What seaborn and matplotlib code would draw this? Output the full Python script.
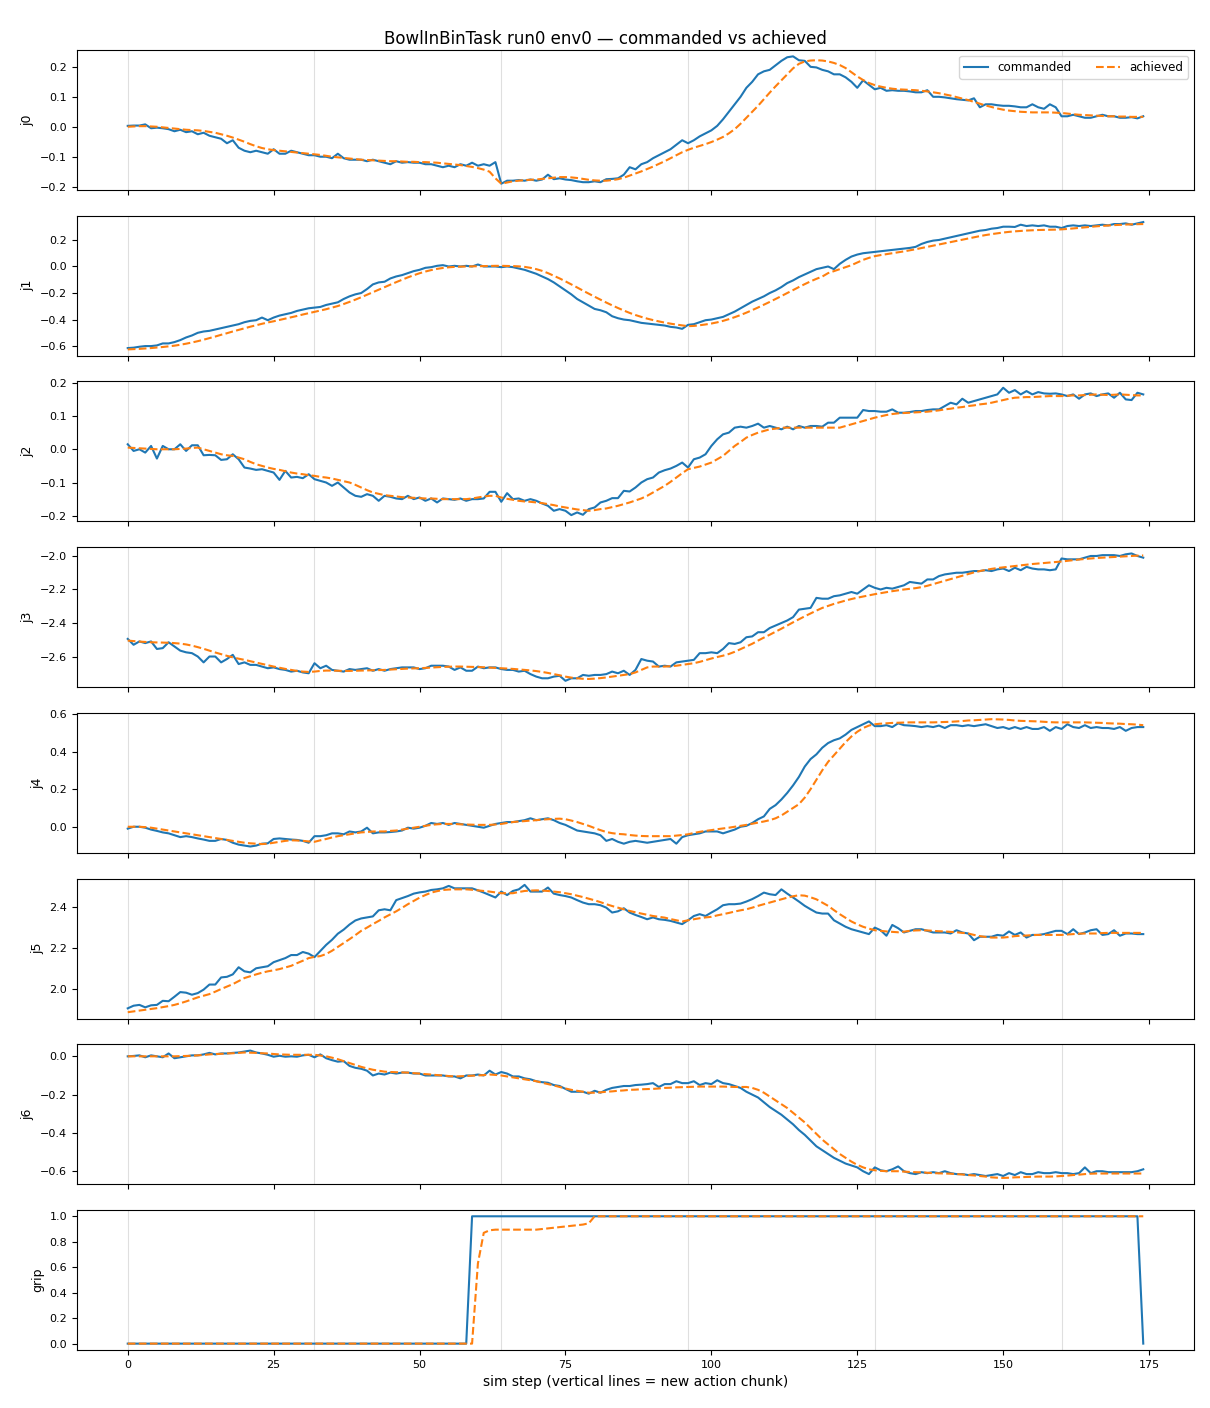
import numpy as np
import matplotlib
matplotlib.use("Agg")
import matplotlib.pyplot as plt
import seaborn as sb

# commanded vs achieved joint targets, one value per sim step
j0_cmd = [0.003, 0.004, 0.004, 0.008, -0.005, -0.003, -0.005, -0.008, -0.015, -0.01,
          -0.018, -0.015, -0.025, -0.02, -0.03, -0.035, -0.04, -0.055, -0.045, -0.07,
          -0.08, -0.085, -0.08, -0.085, -0.09, -0.075, -0.09, -0.09, -0.08, -0.085,
          -0.09, -0.095, -0.095, -0.1, -0.1, -0.105, -0.09, -0.105, -0.11, -0.11,
          -0.11, -0.115, -0.11, -0.115, -0.12, -0.125, -0.115, -0.12, -0.118, -0.12,
          -0.12, -0.125, -0.125, -0.13, -0.135, -0.13, -0.135, -0.125, -0.13, -0.12,
          -0.13, -0.125, -0.13, -0.118, -0.19, -0.18, -0.18, -0.178, -0.18, -0.176,
          -0.18, -0.176, -0.16, -0.175, -0.172, -0.176, -0.178, -0.182, -0.185, -0.185,
          -0.182, -0.185, -0.175, -0.174, -0.172, -0.16, -0.135, -0.142, -0.125, -0.118,
          -0.105, -0.095, -0.085, -0.075, -0.06, -0.045, -0.055, -0.045, -0.032, -0.022,
          -0.012, 0.003, 0.025, 0.05, 0.075, 0.1, 0.13, 0.15, 0.175, 0.185,
          0.19, 0.205, 0.22, 0.232, 0.235, 0.222, 0.22, 0.2, 0.198, 0.19,
          0.185, 0.175, 0.175, 0.165, 0.15, 0.13, 0.155, 0.14, 0.125, 0.13,
          0.12, 0.122, 0.12, 0.12, 0.118, 0.115, 0.115, 0.122, 0.1, 0.1,
          0.098, 0.095, 0.092, 0.09, 0.088, 0.095, 0.065, 0.075, 0.075, 0.072,
          0.07, 0.07, 0.068, 0.065, 0.065, 0.075, 0.065, 0.06, 0.075, 0.065,
          0.035, 0.035, 0.04, 0.035, 0.03, 0.03, 0.035, 0.04, 0.035, 0.035,
          0.03, 0.03, 0.032, 0.028, 0.035]
j0_ach = [0.0, 0.001, 0.002, 0.002, 0.001, 0.0, -0.002, -0.004, -0.006, -0.008,
          -0.01, -0.011, -0.012, -0.014, -0.017, -0.02, -0.025, -0.03, -0.036, -0.043,
          -0.05, -0.058, -0.065, -0.071, -0.075, -0.078, -0.08, -0.082, -0.084, -0.086,
          -0.088, -0.09, -0.092, -0.094, -0.097, -0.1, -0.102, -0.104, -0.106, -0.108,
          -0.11, -0.111, -0.112, -0.113, -0.114, -0.115, -0.115, -0.116, -0.117, -0.117,
          -0.118, -0.118, -0.119, -0.12, -0.122, -0.124, -0.126, -0.128, -0.131, -0.134,
          -0.138, -0.143, -0.15, -0.172, -0.19, -0.186, -0.182, -0.18, -0.178, -0.177,
          -0.176, -0.174, -0.172, -0.17, -0.168, -0.168, -0.169, -0.171, -0.174, -0.177,
          -0.179, -0.18, -0.18, -0.178, -0.175, -0.17, -0.163, -0.156, -0.149, -0.141,
          -0.133, -0.124, -0.115, -0.105, -0.095, -0.085, -0.077, -0.07, -0.064, -0.058,
          -0.051, -0.043, -0.034, -0.022, -0.008, 0.01, 0.03, 0.05, 0.07, 0.092,
          0.114, 0.135, 0.155, 0.175, 0.195, 0.21, 0.218, 0.221, 0.222, 0.221,
          0.218, 0.213, 0.206, 0.196, 0.182, 0.168, 0.156, 0.146, 0.139, 0.134,
          0.13, 0.127, 0.125, 0.124, 0.123, 0.122, 0.12, 0.118, 0.115, 0.112,
          0.108, 0.104, 0.099, 0.094, 0.089, 0.083, 0.077, 0.071, 0.066, 0.061,
          0.057, 0.054, 0.052, 0.05, 0.049, 0.048, 0.048, 0.048, 0.048, 0.047,
          0.046, 0.044, 0.042, 0.04, 0.039, 0.038, 0.037, 0.036, 0.035, 0.035,
          0.034, 0.034, 0.033, 0.033, 0.033]

j1_cmd = [-0.615, -0.612, -0.605, -0.6, -0.6, -0.595, -0.58, -0.58, -0.57, -0.555,
          -0.535, -0.52, -0.5, -0.49, -0.485, -0.475, -0.465, -0.455, -0.445, -0.435,
          -0.42, -0.41, -0.405, -0.385, -0.405, -0.385, -0.37, -0.36, -0.35, -0.335,
          -0.325, -0.315, -0.31, -0.305, -0.29, -0.28, -0.27, -0.245, -0.225, -0.21,
          -0.2, -0.17, -0.135, -0.12, -0.115, -0.09, -0.075, -0.065, -0.05, -0.035,
          -0.025, -0.01, -0.005, 0.005, 0.01, 0.0, 0.005, 0.0, 0.005, 0.0,
          0.015, 0.0, 0.0, 0.0, -0.005, 0.0, -0.005, -0.015, -0.025, -0.04,
          -0.055, -0.075, -0.095, -0.12, -0.15, -0.18, -0.21, -0.245, -0.27, -0.295,
          -0.32, -0.33, -0.345, -0.375, -0.39, -0.4, -0.405, -0.415, -0.425, -0.43,
          -0.435, -0.44, -0.445, -0.455, -0.46, -0.47, -0.44, -0.435, -0.42, -0.405,
          -0.4, -0.39, -0.38, -0.36, -0.34, -0.315, -0.29, -0.265, -0.245, -0.225,
          -0.2, -0.18, -0.155, -0.125, -0.105, -0.08, -0.06, -0.04, -0.02, -0.01,
          0.0, -0.02, 0.02, 0.05, 0.075, 0.09, 0.1, 0.105, 0.11, 0.115,
          0.12, 0.125, 0.13, 0.135, 0.14, 0.148, 0.17, 0.185, 0.195, 0.2,
          0.21, 0.22, 0.23, 0.24, 0.25, 0.26, 0.27, 0.275, 0.285, 0.29,
          0.3, 0.3, 0.298, 0.315, 0.305, 0.31, 0.305, 0.31, 0.3, 0.3,
          0.29, 0.305, 0.31, 0.305, 0.31, 0.305, 0.31, 0.315, 0.31, 0.32,
          0.32, 0.325, 0.315, 0.325, 0.335]
j1_ach = [-0.625, -0.623, -0.621, -0.618, -0.615, -0.611, -0.607, -0.602, -0.597, -0.59,
          -0.582, -0.573, -0.563, -0.552, -0.54, -0.528, -0.515, -0.503, -0.49, -0.478,
          -0.466, -0.454, -0.443, -0.432, -0.422, -0.413, -0.403, -0.393, -0.383, -0.373,
          -0.362, -0.352, -0.342, -0.332, -0.322, -0.31, -0.298, -0.283, -0.267, -0.25,
          -0.232, -0.213, -0.194, -0.175, -0.156, -0.137, -0.118, -0.1, -0.082, -0.066,
          -0.051, -0.038, -0.027, -0.018, -0.011, -0.006, -0.003, -0.001, 0.0, 0.001,
          0.002, 0.003, 0.004, 0.005, 0.005, 0.004, 0.003, 0.001, -0.003, -0.01,
          -0.02, -0.033, -0.05, -0.07, -0.09, -0.112, -0.135, -0.158, -0.182, -0.205,
          -0.228, -0.25, -0.272, -0.293, -0.313, -0.332, -0.35, -0.366, -0.38, -0.393,
          -0.404, -0.414, -0.423, -0.431, -0.438, -0.444, -0.45, -0.448, -0.443, -0.437,
          -0.43, -0.421, -0.41, -0.397, -0.382, -0.366, -0.348, -0.329, -0.309, -0.288,
          -0.267, -0.245, -0.223, -0.2, -0.178, -0.155, -0.133, -0.112, -0.093, -0.076,
          -0.05, -0.035, -0.02, -0.005, 0.01, 0.03, 0.05, 0.065, 0.078, 0.086,
          0.093, 0.1, 0.107, 0.114, 0.122, 0.13, 0.139, 0.148, 0.157, 0.166,
          0.175, 0.184, 0.193, 0.202, 0.211, 0.22, 0.229, 0.237, 0.244, 0.25,
          0.256, 0.261, 0.265, 0.268, 0.271, 0.273, 0.275, 0.276, 0.277, 0.278,
          0.28, 0.283, 0.287, 0.291, 0.295, 0.299, 0.303, 0.306, 0.309, 0.312,
          0.314, 0.316, 0.318, 0.319, 0.32]

j2_cmd = [0.015, -0.005, 0.0, -0.01, 0.01, -0.028, 0.01, 0.0, 0.0, 0.015,
          -0.005, 0.012, 0.012, -0.018, -0.017, -0.018, -0.032, -0.03, -0.015, -0.03,
          -0.055, -0.058, -0.062, -0.06, -0.065, -0.07, -0.092, -0.065, -0.085, -0.083,
          -0.087, -0.075, -0.09, -0.095, -0.1, -0.11, -0.1, -0.115, -0.13, -0.14,
          -0.143, -0.135, -0.14, -0.155, -0.14, -0.143, -0.148, -0.15, -0.14, -0.15,
          -0.145, -0.155, -0.148, -0.16, -0.148, -0.15, -0.152, -0.148, -0.155, -0.15,
          -0.15, -0.148, -0.128, -0.128, -0.158, -0.132, -0.15, -0.148, -0.155, -0.15,
          -0.155, -0.163, -0.17, -0.185, -0.18, -0.185, -0.198, -0.19, -0.197, -0.18,
          -0.175, -0.16, -0.155, -0.147, -0.147, -0.125, -0.127, -0.115, -0.1, -0.09,
          -0.085, -0.07, -0.063, -0.058, -0.05, -0.04, -0.055, -0.03, -0.025, -0.015,
          0.01, 0.03, 0.045, 0.05, 0.065, 0.068, 0.065, 0.07, 0.077, 0.065,
          0.07, 0.065, 0.06, 0.068, 0.06, 0.07, 0.065, 0.07, 0.07, 0.068,
          0.08, 0.08, 0.095, 0.095, 0.095, 0.095, 0.118, 0.115, 0.115, 0.113,
          0.113, 0.12, 0.11, 0.11, 0.112, 0.115, 0.115, 0.118, 0.12, 0.12,
          0.13, 0.14, 0.135, 0.152, 0.14, 0.145, 0.15, 0.155, 0.16, 0.165,
          0.185, 0.17, 0.178, 0.165, 0.175, 0.165, 0.172, 0.168, 0.167, 0.168,
          0.165, 0.16, 0.165, 0.152, 0.165, 0.168, 0.16, 0.165, 0.168, 0.155,
          0.17, 0.15, 0.148, 0.17, 0.165]
j2_ach = [0.005, 0.004, 0.003, 0.002, 0.001, 0.0, 0.0, 0.0, 0.0, 0.001,
          0.002, 0.004, 0.005, 0.0, -0.005, -0.01, -0.015, -0.018, -0.02, -0.025,
          -0.03, -0.038, -0.045, -0.05, -0.055, -0.059, -0.062, -0.066, -0.07, -0.073,
          -0.075, -0.078, -0.08, -0.083, -0.085, -0.088, -0.092, -0.096, -0.1, -0.107,
          -0.115, -0.123, -0.13, -0.134, -0.138, -0.14, -0.142, -0.144, -0.145, -0.146,
          -0.147, -0.148, -0.148, -0.149, -0.15, -0.15, -0.15, -0.15, -0.15, -0.148,
          -0.145, -0.142, -0.14, -0.14, -0.145, -0.149, -0.152, -0.155, -0.157, -0.158,
          -0.16, -0.162, -0.165, -0.168, -0.172, -0.175, -0.178, -0.181, -0.183, -0.185,
          -0.183, -0.18, -0.178, -0.174, -0.17, -0.165, -0.16, -0.154, -0.148, -0.14,
          -0.13, -0.12, -0.11, -0.098, -0.085, -0.072, -0.06, -0.056, -0.052, -0.046,
          -0.04, -0.03, -0.02, -0.005, 0.01, 0.022, 0.035, 0.043, 0.05, 0.055,
          0.06, 0.062, 0.065, 0.065, 0.065, 0.065, 0.065, 0.065, 0.065, 0.065,
          0.065, 0.065, 0.065, 0.07, 0.075, 0.08, 0.085, 0.09, 0.095, 0.099,
          0.103, 0.106, 0.108, 0.109, 0.11, 0.111, 0.112, 0.113, 0.115, 0.117,
          0.12, 0.122, 0.125, 0.127, 0.13, 0.132, 0.135, 0.137, 0.14, 0.144,
          0.148, 0.152, 0.155, 0.156, 0.157, 0.157, 0.158, 0.159, 0.16, 0.16,
          0.16, 0.161, 0.162, 0.162, 0.163, 0.164, 0.165, 0.164, 0.163, 0.164,
          0.165, 0.164, 0.163, 0.162, 0.162]

j3_cmd = [-2.495, -2.53, -2.51, -2.52, -2.51, -2.555, -2.55, -2.515, -2.54, -2.565,
          -2.575, -2.58, -2.6, -2.635, -2.6, -2.6, -2.635, -2.615, -2.59, -2.645,
          -2.635, -2.65, -2.65, -2.66, -2.67, -2.665, -2.675, -2.68, -2.69, -2.685,
          -2.695, -2.7, -2.64, -2.67, -2.655, -2.68, -2.685, -2.69, -2.675, -2.68,
          -2.675, -2.67, -2.685, -2.675, -2.685, -2.675, -2.67, -2.665, -2.665, -2.665,
          -2.675, -2.67, -2.655, -2.655, -2.655, -2.66, -2.68, -2.665, -2.685, -2.685,
          -2.66, -2.67, -2.665, -2.665, -2.675, -2.68, -2.68, -2.69, -2.685, -2.705,
          -2.72, -2.73, -2.73, -2.72, -2.715, -2.745, -2.73, -2.73, -2.71, -2.715,
          -2.71, -2.71, -2.705, -2.69, -2.7, -2.685, -2.71, -2.68, -2.615, -2.625,
          -2.63, -2.66, -2.655, -2.66, -2.635, -2.63, -2.625, -2.62, -2.58, -2.58,
          -2.575, -2.58, -2.555, -2.52, -2.525, -2.515, -2.485, -2.48, -2.455, -2.455,
          -2.43, -2.415, -2.4, -2.385, -2.365, -2.32, -2.315, -2.31, -2.25, -2.255,
          -2.255, -2.24, -2.235, -2.225, -2.215, -2.225, -2.2, -2.175, -2.19, -2.2,
          -2.19, -2.195, -2.185, -2.175, -2.155, -2.16, -2.165, -2.14, -2.14, -2.12,
          -2.11, -2.105, -2.1, -2.1, -2.095, -2.09, -2.09, -2.085, -2.09, -2.08,
          -2.075, -2.09, -2.07, -2.085, -2.065, -2.075, -2.08, -2.08, -2.085, -2.08,
          -2.015, -2.02, -2.02, -2.02, -2.01, -2.0, -2.0, -1.995, -1.995, -1.995,
          -2.0, -1.99, -1.985, -2.0, -2.01]
j3_ach = [-2.505, -2.508, -2.511, -2.513, -2.515, -2.516, -2.517, -2.518, -2.52, -2.523,
          -2.528, -2.535, -2.544, -2.554, -2.565, -2.576, -2.586, -2.596, -2.605, -2.613,
          -2.62, -2.628, -2.636, -2.644, -2.652, -2.66, -2.667, -2.674, -2.68, -2.686,
          -2.69, -2.692, -2.69, -2.686, -2.684, -2.684, -2.685, -2.686, -2.686, -2.685,
          -2.684, -2.683, -2.682, -2.681, -2.68, -2.678, -2.676, -2.674, -2.672, -2.671,
          -2.67, -2.668, -2.666, -2.664, -2.662, -2.661, -2.66, -2.66, -2.661, -2.662,
          -2.663, -2.664, -2.666, -2.668, -2.67, -2.672, -2.674, -2.677, -2.68, -2.683,
          -2.687, -2.692, -2.698, -2.705, -2.712, -2.72, -2.726, -2.73, -2.733, -2.734,
          -2.732, -2.729, -2.725, -2.72, -2.715, -2.71, -2.705, -2.695, -2.68, -2.665,
          -2.66, -2.66, -2.66, -2.658, -2.655, -2.65, -2.645, -2.64, -2.632, -2.622,
          -2.612, -2.603, -2.595, -2.585, -2.572, -2.556, -2.54, -2.524, -2.505, -2.487,
          -2.47, -2.452, -2.434, -2.415, -2.396, -2.378, -2.36, -2.343, -2.326, -2.31,
          -2.298, -2.286, -2.276, -2.266, -2.257, -2.249, -2.242, -2.235, -2.228, -2.222,
          -2.216, -2.21, -2.205, -2.2, -2.196, -2.192, -2.186, -2.178, -2.168, -2.158,
          -2.148, -2.138, -2.128, -2.118, -2.108, -2.098, -2.09, -2.083, -2.077, -2.072,
          -2.068, -2.064, -2.06, -2.056, -2.052, -2.048, -2.045, -2.042, -2.039, -2.036,
          -2.033, -2.029, -2.025, -2.021, -2.018, -2.015, -2.012, -2.01, -2.008, -2.006,
          -2.004, -2.002, -2.0, -1.998, -1.997]

j4_cmd = [-0.01, 0.0, 0.0, -0.005, -0.015, -0.022, -0.03, -0.035, -0.045, -0.055,
          -0.05, -0.055, -0.062, -0.068, -0.075, -0.075, -0.065, -0.07, -0.085, -0.095,
          -0.1, -0.105, -0.1, -0.09, -0.088, -0.065, -0.062, -0.065, -0.068, -0.07,
          -0.075, -0.085, -0.05, -0.05, -0.045, -0.035, -0.035, -0.04, -0.025, -0.03,
          -0.025, -0.005, -0.035, -0.03, -0.03, -0.028, -0.025, -0.02, -0.005, -0.01,
          -0.005, 0.005, 0.02, 0.015, 0.02, 0.01, 0.02, 0.015, 0.01, 0.005,
          0.0, -0.005, 0.005, 0.015, 0.02, 0.025, 0.025, 0.03, 0.035, 0.045,
          0.035, 0.04, 0.045, 0.035, 0.02, 0.01, -0.005, -0.02, -0.025, -0.03,
          -0.035, -0.045, -0.075, -0.065, -0.08, -0.09, -0.08, -0.075, -0.08, -0.085,
          -0.08, -0.075, -0.07, -0.065, -0.09, -0.055, -0.045, -0.04, -0.035, -0.025,
          -0.025, -0.025, -0.035, -0.025, -0.015, 0.0, 0.005, 0.02, 0.04, 0.055,
          0.095, 0.115, 0.145, 0.18, 0.22, 0.265, 0.32, 0.36, 0.385, 0.42,
          0.445, 0.46, 0.47, 0.49, 0.515, 0.53, 0.545, 0.56, 0.535, 0.535,
          0.54, 0.53, 0.55, 0.54, 0.538, 0.535, 0.53, 0.535, 0.53, 0.538,
          0.525, 0.54, 0.54, 0.535, 0.54, 0.535, 0.54, 0.545, 0.535, 0.525,
          0.53, 0.52, 0.53, 0.52, 0.53, 0.52, 0.52, 0.53, 0.51, 0.53,
          0.52, 0.545, 0.53, 0.525, 0.54, 0.525, 0.53, 0.525, 0.525, 0.52,
          0.53, 0.51, 0.525, 0.53, 0.53]
j4_ach = [0.0, 0.0, 0.0, -0.002, -0.005, -0.01, -0.015, -0.02, -0.025, -0.03,
          -0.035, -0.04, -0.045, -0.05, -0.055, -0.06, -0.065, -0.07, -0.075, -0.08,
          -0.085, -0.088, -0.09, -0.092, -0.09, -0.085, -0.08, -0.075, -0.072, -0.073,
          -0.075, -0.078, -0.08, -0.072, -0.065, -0.057, -0.05, -0.045, -0.04, -0.035,
          -0.03, -0.028, -0.025, -0.025, -0.025, -0.022, -0.02, -0.015, -0.01, -0.005,
          0.0, 0.005, 0.01, 0.013, 0.015, 0.015, 0.015, 0.013, 0.012, 0.011,
          0.01, 0.01, 0.01, 0.012, 0.015, 0.02, 0.025, 0.028, 0.03, 0.033,
          0.035, 0.038, 0.04, 0.042, 0.043, 0.04, 0.033, 0.025, 0.015, 0.005,
          -0.007, -0.018, -0.028, -0.034, -0.038, -0.04, -0.044, -0.047, -0.049, -0.05,
          -0.05, -0.05, -0.05, -0.05, -0.047, -0.044, -0.04, -0.033, -0.027, -0.022,
          -0.018, -0.013, -0.009, -0.005, 0.0, 0.005, 0.01, 0.016, 0.022, 0.028,
          0.035, 0.045, 0.06, 0.08, 0.1, 0.12, 0.155, 0.2, 0.25, 0.3,
          0.345, 0.38, 0.415, 0.45, 0.48, 0.505, 0.525, 0.538, 0.545, 0.548,
          0.55, 0.552, 0.553, 0.554, 0.555, 0.555, 0.555, 0.555, 0.555, 0.556,
          0.557, 0.558, 0.56, 0.562, 0.565, 0.566, 0.568, 0.57, 0.572, 0.571,
          0.57, 0.568, 0.565, 0.563, 0.562, 0.561, 0.56, 0.558, 0.556, 0.555,
          0.555, 0.555, 0.555, 0.555, 0.555, 0.554, 0.553, 0.552, 0.55, 0.549,
          0.548, 0.546, 0.545, 0.543, 0.54]

j5_cmd = [1.903, 1.916, 1.92, 1.908, 1.918, 1.92, 1.94, 1.938, 1.96, 1.983,
          1.98, 1.97, 1.978, 1.995, 2.02, 2.02, 2.055, 2.058, 2.07, 2.105,
          2.085, 2.08, 2.1, 2.105, 2.11, 2.13, 2.14, 2.15, 2.165, 2.165,
          2.18, 2.172, 2.155, 2.185, 2.215, 2.24, 2.27, 2.29, 2.315, 2.335,
          2.345, 2.35, 2.355, 2.385, 2.39, 2.385, 2.435, 2.445, 2.455, 2.467,
          2.473, 2.477, 2.485, 2.488, 2.493, 2.505, 2.493, 2.493, 2.493, 2.493,
          2.483, 2.472, 2.46, 2.448, 2.477, 2.46, 2.48, 2.488, 2.51, 2.477,
          2.477, 2.477, 2.497, 2.467, 2.46, 2.455, 2.448, 2.435, 2.423, 2.415,
          2.415, 2.41, 2.398, 2.374, 2.38, 2.395, 2.374, 2.362, 2.352, 2.341,
          2.35, 2.341, 2.338, 2.333, 2.325, 2.317, 2.336, 2.357, 2.366, 2.357,
          2.374, 2.39, 2.41, 2.415, 2.415, 2.418, 2.428, 2.44, 2.455, 2.472,
          2.464, 2.46, 2.488, 2.467, 2.448, 2.428, 2.407, 2.39, 2.374, 2.369,
          2.369, 2.336, 2.32, 2.304, 2.292, 2.284, 2.276, 2.268, 2.3, 2.287,
          2.26, 2.313, 2.297, 2.276, 2.284, 2.292, 2.292, 2.284, 2.276, 2.276,
          2.276, 2.271, 2.287, 2.276, 2.271, 2.238, 2.255, 2.255, 2.255, 2.264,
          2.26, 2.281, 2.264, 2.276, 2.251, 2.264, 2.264, 2.268, 2.276, 2.284,
          2.284, 2.268, 2.292, 2.268, 2.276, 2.287, 2.292, 2.264, 2.268, 2.287,
          2.26, 2.271, 2.271, 2.268, 2.268]
j5_ach = [1.884, 1.888, 1.892, 1.896, 1.9, 1.904, 1.909, 1.914, 1.92, 1.928,
          1.937, 1.947, 1.957, 1.965, 1.973, 1.985, 1.998, 2.01, 2.022, 2.037,
          2.052, 2.061, 2.07, 2.078, 2.085, 2.09, 2.096, 2.104, 2.112, 2.125,
          2.137, 2.15, 2.156, 2.16, 2.17, 2.186, 2.205, 2.224, 2.243, 2.263,
          2.284, 2.3, 2.317, 2.333, 2.35, 2.365, 2.38, 2.397, 2.415, 2.431,
          2.447, 2.46, 2.472, 2.479, 2.485, 2.487, 2.488, 2.488, 2.488, 2.486,
          2.483, 2.48, 2.477, 2.473, 2.469, 2.469, 2.469, 2.475, 2.48, 2.482,
          2.483, 2.482, 2.48, 2.477, 2.474, 2.469, 2.464, 2.457, 2.45, 2.442,
          2.434, 2.425, 2.415, 2.406, 2.398, 2.39, 2.382, 2.375, 2.369, 2.363,
          2.357, 2.353, 2.349, 2.342, 2.336, 2.33, 2.336, 2.341, 2.346, 2.35,
          2.353, 2.36, 2.366, 2.372, 2.379, 2.385, 2.39, 2.398, 2.407, 2.415,
          2.423, 2.431, 2.439, 2.447, 2.454, 2.459, 2.457, 2.449, 2.439, 2.423,
          2.407, 2.386, 2.366, 2.348, 2.33, 2.316, 2.304, 2.295, 2.287, 2.284,
          2.281, 2.279, 2.277, 2.28, 2.284, 2.286, 2.287, 2.286, 2.284, 2.282,
          2.281, 2.279, 2.277, 2.274, 2.271, 2.264, 2.258, 2.254, 2.251, 2.251,
          2.251, 2.254, 2.258, 2.26, 2.261, 2.263, 2.264, 2.264, 2.264, 2.264,
          2.264, 2.266, 2.268, 2.27, 2.271, 2.271, 2.271, 2.273, 2.274, 2.274,
          2.274, 2.274, 2.274, 2.274, 2.274]

j6_cmd = [0.0, 0.002, 0.005, -0.005, 0.005, 0.0, -0.005, 0.015, -0.01, -0.005,
          0.0, 0.005, 0.005, 0.01, 0.018, 0.01, 0.015, 0.015, 0.018, 0.02,
          0.025, 0.03, 0.02, 0.015, 0.008, -0.002, 0.003, -0.002, 0.0, -0.002,
          0.005, 0.008, -0.005, 0.01, -0.01, -0.02, -0.028, -0.025, -0.05, -0.06,
          -0.065, -0.075, -0.1, -0.09, -0.095, -0.085, -0.09, -0.085, -0.085, -0.09,
          -0.09, -0.1, -0.1, -0.1, -0.1, -0.105, -0.105, -0.115, -0.1, -0.1,
          -0.095, -0.1, -0.075, -0.095, -0.082, -0.09, -0.105, -0.105, -0.115, -0.12,
          -0.13, -0.135, -0.138, -0.15, -0.155, -0.17, -0.185, -0.185, -0.185, -0.195,
          -0.18, -0.19, -0.175, -0.165, -0.16, -0.155, -0.155, -0.15, -0.148, -0.145,
          -0.14, -0.16, -0.145, -0.145, -0.13, -0.14, -0.14, -0.13, -0.15, -0.14,
          -0.145, -0.125, -0.14, -0.145, -0.155, -0.165, -0.185, -0.2, -0.215, -0.24,
          -0.265, -0.285, -0.305, -0.33, -0.355, -0.385, -0.41, -0.44, -0.47, -0.49,
          -0.51, -0.53, -0.545, -0.56, -0.57, -0.58, -0.6, -0.615, -0.58, -0.595,
          -0.6, -0.59, -0.575, -0.6, -0.61, -0.615, -0.605, -0.61, -0.605, -0.61,
          -0.6, -0.61, -0.615, -0.615, -0.62, -0.615, -0.62, -0.625, -0.62, -0.615,
          -0.625, -0.61, -0.62, -0.605, -0.615, -0.615, -0.605, -0.61, -0.61, -0.605,
          -0.61, -0.61, -0.615, -0.61, -0.58, -0.61, -0.6, -0.6, -0.605, -0.605,
          -0.605, -0.605, -0.605, -0.6, -0.59]
j6_ach = [0.0, 0.0, 0.0, 0.0, 0.0, 0.0, 0.0, 0.0, 0.0, 0.001,
          0.002, 0.003, 0.005, 0.007, 0.01, 0.012, 0.013, 0.015, 0.016, 0.018,
          0.02, 0.019, 0.018, 0.016, 0.015, 0.012, 0.01, 0.009, 0.008, 0.008,
          0.008, 0.008, 0.008, 0.004, 0.0, -0.007, -0.015, -0.025, -0.035, -0.045,
          -0.055, -0.063, -0.07, -0.075, -0.08, -0.082, -0.083, -0.084, -0.085, -0.088,
          -0.09, -0.093, -0.095, -0.098, -0.1, -0.103, -0.105, -0.104, -0.103, -0.101,
          -0.1, -0.098, -0.095, -0.097, -0.1, -0.105, -0.11, -0.115, -0.12, -0.125,
          -0.13, -0.138, -0.145, -0.152, -0.16, -0.168, -0.175, -0.18, -0.185, -0.19,
          -0.19, -0.188, -0.185, -0.183, -0.18, -0.178, -0.175, -0.174, -0.172, -0.171,
          -0.17, -0.168, -0.165, -0.164, -0.162, -0.161, -0.16, -0.159, -0.158, -0.158,
          -0.158, -0.158, -0.158, -0.159, -0.16, -0.16, -0.16, -0.165, -0.175, -0.19,
          -0.21, -0.23, -0.25, -0.27, -0.295, -0.32, -0.345, -0.375, -0.405, -0.435,
          -0.46, -0.485, -0.51, -0.53, -0.55, -0.567, -0.58, -0.59, -0.595, -0.598,
          -0.6, -0.6, -0.6, -0.602, -0.604, -0.605, -0.606, -0.608, -0.61, -0.611,
          -0.612, -0.613, -0.615, -0.617, -0.62, -0.622, -0.625, -0.628, -0.632, -0.634,
          -0.635, -0.634, -0.632, -0.631, -0.63, -0.629, -0.628, -0.628, -0.628, -0.627,
          -0.625, -0.623, -0.62, -0.618, -0.615, -0.613, -0.612, -0.612, -0.612, -0.612,
          -0.612, -0.612, -0.612, -0.612, -0.612]

# gripper: closed command at step 59, released on the last step
grip_cmd = [0.0] * 59 + [1.0] * 115 + [0.0]
grip_ach = ([0.0] * 60
            + [0.63, 0.87, 0.89, 0.895, 0.895, 0.895, 0.895, 0.895, 0.895, 0.895,
               0.895, 0.9, 0.905, 0.91, 0.915, 0.92, 0.925, 0.93, 0.935, 0.945]
            + [1.0] * 95)

labels = ["j0", "j1", "j2", "j3", "j4", "j5", "j6", "grip"]
commanded = [j0_cmd, j1_cmd, j2_cmd, j3_cmd, j4_cmd, j5_cmd, j6_cmd, grip_cmd]
achieved = [j0_ach, j1_ach, j2_ach, j3_ach, j4_ach, j5_ach, j6_ach, grip_ach]
chunk_len = 32

fig, axes = plt.subplots(8, 1, figsize=(12.1, 14.08), dpi=100, sharex=True)
fig.subplots_adjust(left=0.0636, right=0.9868, top=0.9645, bottom=0.0412, hspace=0.183)

for ax, name, c, a in zip(axes, labels, commanded, achieved):
    # grey line at the start of every action chunk
    for s in range(0, len(c), chunk_len):
        ax.axvline(s, color="gray", alpha=0.25, lw=0.8, zorder=0)
    sb.lineplot(x=np.arange(len(c)), y=c, ax=ax, color="tab:blue", lw=1.5,
                label="commanded", legend=False)
    sb.lineplot(x=np.arange(len(a)), y=a, ax=ax, color="tab:orange", lw=1.5,
                ls="--", label="achieved", legend=False)
    ax.set_ylabel(name, fontsize=9)
    ax.tick_params(labelsize=8)

axes[0].legend(loc="upper right", ncol=2, fontsize=8.6)
axes[-1].set_xlabel("sim step (vertical lines = new action chunk)", fontsize=10)
fig.suptitle("BowlInBinTask run0 env0 \u2014 commanded vs achieved", fontsize=12, y=0.979)

fig.savefig("out.png", dpi=100)
